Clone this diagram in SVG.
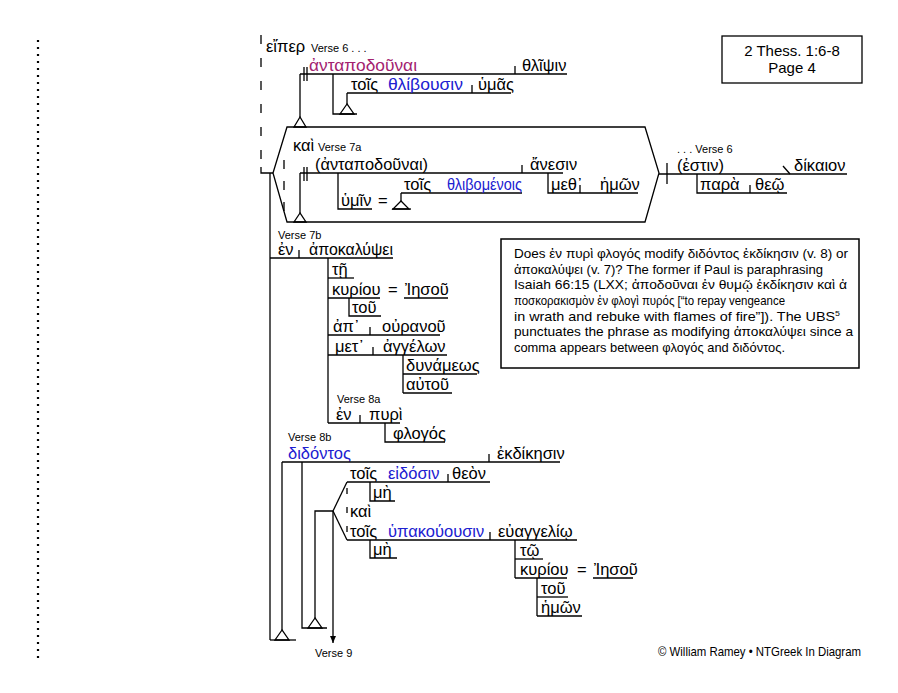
<svg xmlns="http://www.w3.org/2000/svg" width="898" height="693" viewBox="0 0 898 693">
<defs>
<style>
.g{font-family:"Liberation Sans","DejaVu Sans",sans-serif;font-size:16.5px;fill:#000}
.m{fill:#a3226f}
.b{fill:#2020d0}
.v{font-family:"Liberation Sans",Arial,sans-serif;font-size:11px;fill:#000}
.n{font-family:"Liberation Sans","DejaVu Sans",sans-serif;font-size:13px;fill:#000}
.t{font-family:"Liberation Sans",Arial,sans-serif;font-size:15px;fill:#000}
.ln{stroke:#000;stroke-width:1.3;fill:none}
.dash{stroke:#000;stroke-width:1.3;fill:none;stroke-dasharray:9 14}
</style>
<marker id="arr" markerWidth="8" markerHeight="8" refX="7" refY="4" orient="auto" markerUnits="userSpaceOnUse" viewBox="0 0 8 8">
<path d="M0,1 L7,4 L0,7 Z" fill="#000"/>
</marker>
</defs>
<rect width="898" height="693" fill="#fff"/>

<line x1="38" y1="40" x2="38" y2="658" stroke="#000" stroke-width="2.2" stroke-dasharray="2 5"/>

<g id="title">
<rect x="722" y="36" width="140" height="47" fill="none" stroke="#000" stroke-width="1.3"/>
<text class="t" x="792" y="56" text-anchor="middle">2 Thess. 1:6-8</text>
<text class="t" x="792" y="73" text-anchor="middle">Page 4</text>
</g>

<g id="connectors">
<line class="dash" x1="261" y1="35" x2="261" y2="167"/>
<polyline class="ln" points="261,167 261,173 273,173"/>
<line class="ln" x1="270" y1="173" x2="270" y2="640"/>
<line class="ln" x1="270" y1="640" x2="296" y2="640"/>
</g>

<g id="clause-v6">
<text class="g" x="266" y="52">εἴπερ</text>
<text class="v" x="311" y="52">Verse 6 . . .</text>
<text class="g m" x="309" y="71" textLength="108" lengthAdjust="spacingAndGlyphs">ἀνταποδοῦναι</text>
<line class="ln" x1="300" y1="74" x2="567" y2="74"/>
<line class="ln" x1="515" y1="66" x2="515" y2="74"/>
<text class="g" x="522" y="71">θλῖψιν</text>
<line class="ln" x1="304" y1="67" x2="304" y2="81"/>
<line class="ln" x1="307" y1="67" x2="307" y2="81"/>
<line class="ln" x1="300" y1="74" x2="300" y2="117"/>
<polygon class="ln" points="300,117 294,127 306,127"/>
<polyline class="ln" points="333,74 333,114 357,114"/>
<line class="ln" x1="347" y1="93" x2="511" y2="93"/>
<line class="ln" x1="472" y1="85" x2="472" y2="93"/>
<line class="ln" x1="347" y1="93" x2="347" y2="104"/>
<polygon class="ln" points="347,104 340,114 354,114"/>
<text class="g" x="351" y="90">τοῖς</text>
<text class="g b" x="388" y="90" textLength="75" lengthAdjust="spacingAndGlyphs">θλίβουσιν</text>
<text class="g" x="478" y="90">ὑμᾶς</text>
</g>

<g id="clause-v7a">
<polygon class="ln" points="287,127 645,127 659,173 645,222 287,222 273,173"/>
<text class="g" x="293" y="151">καὶ</text>
<text class="v" x="318" y="151">Verse 7a</text>
<line class="ln" x1="284" y1="160" x2="284" y2="218" stroke-dasharray="9 12"/>
<text class="g" x="315" y="170" textLength="113" lengthAdjust="spacingAndGlyphs">(ἀνταποδοῦναι)</text>
<line class="ln" x1="300" y1="173" x2="563" y2="173"/>
<line class="ln" x1="522" y1="165" x2="522" y2="173"/>
<text class="g" x="530" y="170">ἄνεσιν</text>
<line class="ln" x1="304" y1="167" x2="304" y2="181"/>
<line class="ln" x1="307" y1="167" x2="307" y2="181"/>
<line class="ln" x1="300" y1="173" x2="300" y2="213"/>
<polygon class="ln" points="300,213 294,222 306,222"/>
<polyline class="ln" points="338,173 338,209 372,209"/>
<text class="g" x="341" y="206">ὑμῖν</text>
<text class="g" x="378" y="206">=</text>
<polygon class="ln" points="401,201 393,209 409,209"/>
<line class="ln" x1="392" y1="209" x2="411" y2="209"/>
<line class="ln" x1="401" y1="193" x2="522" y2="193"/>
<line class="ln" x1="401" y1="193" x2="401" y2="201"/>
<text class="g" x="404" y="190">τοῖς</text>
<text class="g b" x="447" y="190" textLength="75" lengthAdjust="spacingAndGlyphs">θλιβομένοις</text>
<polyline class="ln" points="548,173 548,193 638,193"/>
<line class="ln" x1="580" y1="185" x2="580" y2="193"/>
<text class="g" x="551" y="190">μεθ᾽</text>
<text class="g" x="600" y="190">ἡμῶν</text>
</g>

<g id="clause-main">
<line class="ln" x1="659" y1="174" x2="847" y2="174"/>
<line class="ln" x1="667" y1="163" x2="667" y2="184"/>
<text class="v" x="677" y="153">. . . Verse 6</text>
<text class="g" x="677" y="171">(ἐστιν)</text>
<line class="ln" x1="783" y1="166" x2="790" y2="174"/>
<text class="g" x="794" y="171">δίκαιον</text>
<polyline class="ln" points="697,174 697,193 787,193"/>
<line class="ln" x1="750" y1="185" x2="750" y2="193"/>
<text class="g" x="700" y="190">παρὰ</text>
<text class="g" x="755" y="190">θεῷ</text>
</g>

<g id="phrase-v7b">
<text class="v" x="278" y="239">Verse 7b</text>
<line class="ln" x1="270" y1="258" x2="393" y2="258"/>
<line class="ln" x1="299" y1="250" x2="299" y2="258"/>
<text class="g" x="278" y="255">ἐν</text>
<text class="g" x="309" y="255" textLength="84" lengthAdjust="spacingAndGlyphs">ἀποκαλύψει</text>
<line class="ln" x1="328" y1="258" x2="328" y2="423"/>
<line class="ln" x1="328" y1="278" x2="354" y2="278"/>
<text class="g" x="332" y="275">τῇ</text>
<line class="ln" x1="328" y1="298" x2="380" y2="298"/>
<text class="g" x="332" y="295">κυρίου</text>
<text class="g" x="388" y="295">=</text>
<text class="g" x="405" y="295">Ἰησοῦ</text>
<line class="ln" x1="404" y1="298" x2="448" y2="298"/>
<polyline class="ln" points="349,298 349,316 381,316"/>
<text class="g" x="352" y="313">τοῦ</text>
<line class="ln" x1="328" y1="335" x2="440" y2="335"/>
<line class="ln" x1="370" y1="327" x2="370" y2="335"/>
<text class="g" x="333" y="332">ἀπ᾽</text>
<text class="g" x="382" y="332">οὐρανοῦ</text>
<line class="ln" x1="328" y1="355" x2="447" y2="355"/>
<line class="ln" x1="373" y1="347" x2="373" y2="355"/>
<text class="g" x="335" y="352">μετ᾽</text>
<text class="g" x="383" y="352">ἀγγέλων</text>
<line class="ln" x1="403" y1="355" x2="403" y2="393"/>
<line class="ln" x1="403" y1="374" x2="477" y2="374"/>
<text class="g" x="406" y="371">δυνάμεως</text>
<line class="ln" x1="403" y1="393" x2="452" y2="393"/>
<text class="g" x="406" y="390">αὐτοῦ</text>
<text class="v" x="337" y="403">Verse 8a</text>
<line class="ln" x1="328" y1="423" x2="400" y2="423"/>
<line class="ln" x1="360" y1="415" x2="360" y2="423"/>
<text class="g" x="336" y="420">ἐν</text>
<text class="g" x="369" y="420">πυρὶ</text>
<polyline class="ln" points="385,423 385,442 445,442"/>
<text class="g" x="393" y="439">φλογός</text>
</g>

<g id="phrase-v8b">
<text class="v" x="288" y="441">Verse 8b</text>
<text class="g b" x="288" y="459">διδόντος</text>
<line class="ln" x1="282" y1="462" x2="560" y2="462"/>
<line class="ln" x1="489" y1="454" x2="489" y2="462"/>
<text class="g" x="497" y="459">ἐκδίκησιν</text>
<line class="ln" x1="282" y1="462" x2="282" y2="630"/>
<polygon class="ln" points="282,630 275,640 289,640"/>
<polyline class="ln" points="302,462 302,628 327,628"/>
<polygon class="ln" points="315,618 308,628 322,628"/>
<polyline class="ln" points="315,618 315,511 333,511"/>
<line class="ln" x1="333" y1="511" x2="333" y2="643" marker-end="url(#arr)"/>
<line class="ln" x1="333" y1="511" x2="347" y2="482"/>
<line class="ln" x1="333" y1="511" x2="347" y2="540"/>
<line class="ln" x1="347" y1="482" x2="490" y2="482"/>
<line class="ln" x1="448" y1="474" x2="448" y2="482"/>
<text class="g" x="350" y="479">τοῖς</text>
<text class="g b" x="388" y="479">εἰδόσιν</text>
<text class="g" x="452" y="479">θεὸν</text>
<line class="ln" x1="347" y1="488" x2="347" y2="536" stroke-dasharray="6 13"/>
<polyline class="ln" points="370,482 370,501 395,501"/>
<text class="g" x="373" y="498">μὴ</text>
<text class="g" x="350" y="517">καὶ</text>
<line class="ln" x1="347" y1="540" x2="577" y2="540"/>
<line class="ln" x1="490" y1="532" x2="490" y2="540"/>
<text class="g" x="350" y="537">τοῖς</text>
<text class="g b" x="388" y="537">ὑπακούουσιν</text>
<text class="g" x="498" y="537">εὐαγγελίῳ</text>
<polyline class="ln" points="370,540 370,558 397,558"/>
<text class="g" x="373" y="555">μὴ</text>
<line class="ln" x1="515" y1="540" x2="515" y2="578"/>
<line class="ln" x1="515" y1="559" x2="543" y2="559"/>
<text class="g" x="520" y="556">τῷ</text>
<line class="ln" x1="515" y1="578" x2="567" y2="578"/>
<text class="g" x="520" y="575">κυρίου</text>
<text class="g" x="577" y="575">=</text>
<text class="g" x="594" y="575">Ἰησοῦ</text>
<line class="ln" x1="593" y1="578" x2="633" y2="578"/>
<line class="ln" x1="537" y1="578" x2="537" y2="616"/>
<line class="ln" x1="537" y1="597" x2="568" y2="597"/>
<text class="g" x="541" y="594">τοῦ</text>
<line class="ln" x1="537" y1="616" x2="582" y2="616"/>
<text class="g" x="541" y="613">ἡμῶν</text>
<text class="v" x="315" y="657">Verse 9</text>
</g>

<g id="note">
<rect x="501" y="239" width="358" height="129" fill="none" stroke="#000" stroke-width="1.5"/>
<text class="n" x="514" y="258" textLength="334" lengthAdjust="spacingAndGlyphs">Does ἐν πυρὶ φλογός modify διδόντος ἐκδίκησιν (v. 8) or</text>
<text class="n" x="514" y="274" textLength="309" lengthAdjust="spacingAndGlyphs">ἀποκαλύψει (v. 7)?  The former if Paul is paraphrasing</text>
<text class="n" x="514" y="289" textLength="333" lengthAdjust="spacingAndGlyphs">Isaiah 66:15 (LXX; ἀποδοῦναι ἐν θυμῷ ἐκδίκησιν καὶ ἀ</text>
<text class="n" x="514" y="305" textLength="271" lengthAdjust="spacingAndGlyphs">ποσκορακισμὸν ἐν φλογὶ πυρός [“to repay vengeance</text>
<text class="n" x="514" y="321" textLength="326" lengthAdjust="spacingAndGlyphs">in wrath and rebuke with flames of fire”]).  The UBS<tspan font-size="8" dy="-5">5</tspan></text>
<text class="n" x="514" y="336" textLength="339" lengthAdjust="spacingAndGlyphs">punctuates the phrase as modifying ἀποκαλύψει since a</text>
<text class="n" x="514" y="352" textLength="271" lengthAdjust="spacingAndGlyphs">comma appears between φλογός and διδόντος.</text>
</g>

<text class="n" x="658" y="656" font-size="11" textLength="203" lengthAdjust="spacingAndGlyphs">© William Ramey • NTGreek In Diagram</text>
</svg>
